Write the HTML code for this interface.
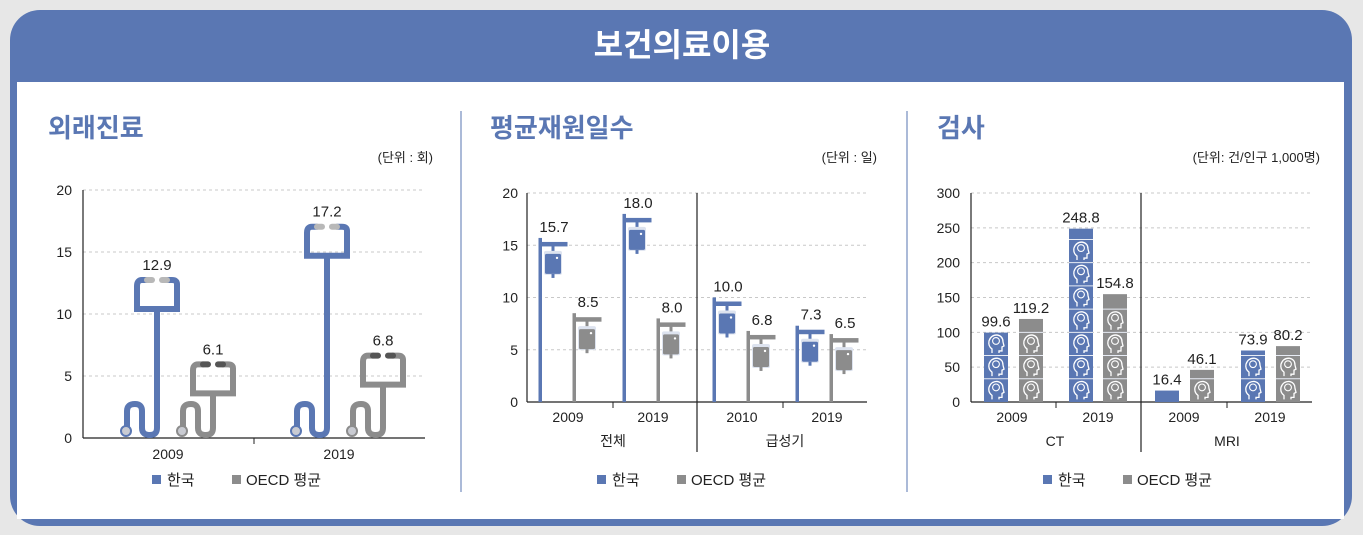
<!DOCTYPE html>
<html><head><meta charset="utf-8">
<style>
html,body{margin:0;padding:0;background:#e7e7e7;}
svg{display:block;font-family:"Liberation Sans","Noto Sans CJK KR",sans-serif;}
</style></head>
<body>
<svg id="s" width="1363" height="535" viewBox="0 0 1363 535">
<rect x="0" y="0" width="1363" height="535" fill="#e7e7e7"/>
<rect x="10" y="10" width="1342" height="516" rx="30" fill="#5a77b3"/>
<rect x="17" y="82" width="1327" height="437" fill="#fff"/>
<text x="682" y="56" text-anchor="middle" fill="#fff" font-size="32" font-weight="bold" font-family="'Noto Sans CJK KR',sans-serif">보건의료이용</text>
<line x1="461" y1="111" x2="461" y2="492" stroke="#8fa3cc" stroke-width="1.5"/>
<line x1="907" y1="111" x2="907" y2="492" stroke="#8fa3cc" stroke-width="1.5"/>
<g id="g"></g>
</svg>
<script>
// Panel 1: 외래진료
const p1Categories = ['2009', '2019'];
const p1Korea = [12.9, 17.2];
const p1Oecd = [6.1, 6.8];
const p1Ticks = [0, 5, 10, 15, 20];
// Panel 2: 평균재원일수
const p2Years = ['2009', '2019', '2010', '2019'];
const p2Groups = ['전체', '급성기'];
const p2Korea = [15.7, 18.0, 10.0, 7.3];
const p2Oecd = [8.5, 8.0, 6.8, 6.5];
const p2Ticks = [0, 5, 10, 15, 20];
// Panel 3: 검사
const p3Years = ['2009', '2019', '2009', '2019'];
const p3Groups = ['CT', 'MRI'];
const p3Korea = [99.6, 248.8, 16.4, 73.9];
const p3Oecd = [119.2, 154.8, 46.1, 80.2];
const p3Ticks = [0, 50, 100, 150, 200, 250, 300];

const BLUE = '#5a77b3', GRAY = '#8c8c8c', TXT = '#222';
const g = document.getElementById('g');
const NS = 'http://www.w3.org/2000/svg';
function mk(tag, attrs, parent) {
  const e = document.createElementNS(NS, tag);
  for (const k in attrs) e.setAttribute(k, attrs[k]);
  (parent || g).appendChild(e);
  return e;
}
function txt(x, y, s, size, anchor, fill, weight, name) {
  const e = mk('text', {x: x, y: y, 'font-size': size, 'text-anchor': anchor || 'start', fill: fill || TXT, 'font-weight': weight || 'normal'});
  e.textContent = s;
  
  
  return e;
}
function axis(x0, x1, y0, yTop, ticks, max, labelX, name) {
  const sy = v => y0 - (v / max) * (y0 - yTop);
  ticks.forEach(t => {
    if (t > 0) {
      const l = mk('line', {x1: x0, x2: x1, y1: sy(t), y2: sy(t), stroke: '#c8c8c8', 'stroke-dasharray': '3,3'});
      
      
    }
    txt(labelX, sy(t) + 5, String(t), 14, 'end', TXT, 'normal', name + '-tick-label');
  });
  const ya = mk('line', {x1: x0, x2: x0, y1: yTop, y2: y0, stroke: '#222', 'stroke-width': 1.2});
  
  
  const xa = mk('line', {x1: x0, x2: x1, y1: y0, y2: y0, stroke: '#222', 'stroke-width': 1.2});
  
  
  return sy;
}
function legend(x, y, name) {
  const a = mk('rect', {x: x, y: y - 9, width: 9, height: 9, fill: BLUE});
  
  
  txt(x + 15, y + 1, '한국', 15, 'start', TXT, 'normal', name + '-legend-korea');
  const b = mk('rect', {x: x + 80, y: y - 9, width: 9, height: 9, fill: GRAY});
  
  
  txt(x + 94, y + 1, 'OECD 평균', 15, 'start', TXT, 'normal', name + '-legend-oecd');
}

// ---------- Panel 1 ----------
txt(48, 137, '외래진료', 26, 'start', BLUE, 'bold', 'outpatient-title');
txt(433, 162, '(단위 : 회)', 13, 'end', TXT, 'normal', 'outpatient-unit');
const sy1 = axis(83, 425, 438, 190, p1Ticks, 20, 72, 'outpatient');
{ const t = mk('line', {x1: 254, x2: 254, y1: 438, y2: 444, stroke: '#222'});
    }
function stetho(S, v, color, ear, name) {
  const top = sy1(v);
  const grp = mk('g', {});
  
  
  const d = `M${S-20},${top+8} L${S-20},${top+31} L${S+20},${top+31} L${S+20},${top+6} Q${S+20},${top+2} ${S+15},${top+2} L${S+10},${top+2}` +
    ` M${S-10},${top+2} L${S-15},${top+2} Q${S-20},${top+2} ${S-20},${top+8}` +
    ` M${S},${top+31} L${S},${428} Q${S},${435} ${S-7},${435} Q${S-15},${435} ${S-15},${428} L${S-15},${411} Q${S-15},${404} ${S-22},${404} Q${S-30},${404} ${S-30},${411} L${S-30},${427}`;
  mk('path', {d: d, fill: 'none', stroke: color, 'stroke-width': 6, 'stroke-linecap': 'round'}, grp);
  mk('line', {x1: S-10, x2: S-5, y1: top+2, y2: top+2, stroke: ear, 'stroke-width': 6, 'stroke-linecap': 'round'}, grp);
  mk('line', {x1: S+5, x2: S+10, y1: top+2, y2: top+2, stroke: ear, 'stroke-width': 6, 'stroke-linecap': 'round'}, grp);
  mk('circle', {cx: S-31, cy: 431, r: 5, fill: '#c9cbd2', stroke: color, 'stroke-width': 2}, grp);
  txt(S, top - 8, v.toFixed(1), 15, 'middle', TXT, 'normal', name + '-value');
}
const p1KX = [157, 327], p1OX = [213, 383], p1CX = [168, 339];
p1Categories.forEach((c, i) => {
  stetho(p1KX[i], p1Korea[i], BLUE, '#b8b8b8', 'outpatient-korea-' + c);
  stetho(p1OX[i], p1Oecd[i], GRAY, '#555', 'outpatient-oecd-' + c);
  txt(p1CX[i], 459, c, 14, 'middle', TXT, 'normal', 'outpatient-category-label');
});
legend(152, 484, 'outpatient');

// ---------- Panel 2 ----------
txt(490, 137, '평균재원일수', 26, 'start', BLUE, 'bold', 'los-title');
txt(877, 162, '(단위 : 일)', 13, 'end', TXT, 'normal', 'los-unit');
const sy2 = axis(527, 867, 402, 193, p2Ticks, 20, 518, 'los');
[613, 783].forEach(x => { const t = mk('line', {x1: x, x2: x, y1: 402, y2: 408, stroke: '#222'});
    });
{ const s = mk('line', {x1: 697, x2: 697, y1: 193, y2: 452, stroke: '#222', 'stroke-width': 1.2});
    }
function ivPole(P, v, color, name) {
  const top = sy2(v);
  const grp = mk('g', {});
  
  
  mk('rect', {x: P - 1.5, y: top, width: 3.5, height: 402 - top, fill: color}, grp);
  mk('rect', {x: P - 1.5, y: top + 4, width: 29, height: 4.5, fill: color}, grp);
  const bx = P + 13;
  mk('rect', {x: bx - 1.5, y: top + 8, width: 3, height: 6, fill: color}, grp);
  mk('rect', {x: bx - 9, y: top + 13, width: 18, height: 24, rx: 2, fill: '#dde3ef'}, grp);
  mk('rect', {x: bx - 8, y: top + 16, width: 16, height: 20, rx: 1.5, fill: color}, grp);
  mk('rect', {x: bx - 1.5, y: top + 36, width: 3, height: 4, fill: color}, grp);
  mk('circle', {cx: bx + 4, cy: top + 20, r: 1.2, fill: '#fff'}, grp);
  txt(P + 14, top - 6, v.toFixed(1), 15, 'middle', TXT, 'normal', name + '-value');
}
const p2KX = [540, 624, 714, 797], p2OX = [574, 658, 748, 831], p2YX = [568, 653, 742, 827], p2GX = [613, 785];
p2Years.forEach((y, i) => {
  ivPole(p2KX[i], p2Korea[i], BLUE, 'los-korea-' + y + '-' + i);
  ivPole(p2OX[i], p2Oecd[i], GRAY, 'los-oecd-' + y + '-' + i);
  txt(p2YX[i], 422, y, 14, 'middle', TXT, 'normal', 'los-year-label');
});
p2Groups.forEach((gn, i) => txt(p2GX[i], 446, gn, 14, 'middle', TXT, 'normal', 'los-group-label'));
legend(597, 484, 'los');

// ---------- Panel 3 ----------
txt(937, 137, '검사', 26, 'start', BLUE, 'bold', 'exam-title');
txt(1320, 162, '(단위: 건/인구 1,000명)', 13, 'end', TXT, 'normal', 'exam-unit');
const sy3 = axis(971, 1312, 402, 193, p3Ticks, 300, 960, 'exam');
[1056, 1227].forEach(x => { const t = mk('line', {x1: x, x2: x, y1: 402, y2: 408, stroke: '#222'});
    });
{ const s = mk('line', {x1: 1141, x2: 1141, y1: 193, y2: 452, stroke: '#222', 'stroke-width': 1.2});
    }
const CELL = 100 / 3;
function headBar(x, v, color, name) {
  const w = 24, top = sy3(v);
  const grp = mk('g', {});
  
  
  mk('rect', {x: x, y: top, width: w, height: 402 - top, fill: color}, grp);
  const cells = Math.floor(v / CELL + 0.05);
  for (let k = 0; k < cells; k++) {
    const yb = sy3(k * CELL), yt = sy3((k + 1) * CELL);
    if (k > 0) mk('line', {x1: x, x2: x + w, y1: yb, y2: yb, stroke: '#e8ecf5', 'stroke-width': 1}, grp);
    const cx = x + w / 2, cy = (yb + yt) / 2;
    mk('path', {d: `M${cx-4},${cy+9} L${cx-4},${cy+5} Q${cx-8},${cy+2} ${cx-7},${cy-3} Q${cx-5},${cy-9} ${cx+1},${cy-9} Q${cx+7},${cy-8} ${cx+7},${cy-2} L${cx+8},${cy+2} L${cx+6},${cy+3} L${cx+6},${cy+7} L${cx+3},${cy+7} L${cx+3},${cy+9}`, fill: 'none', stroke: '#fff', 'stroke-width': 1.3}, grp);
    mk('circle', {cx: cx, cy: cy - 3, r: 3.4, fill: 'none', stroke: '#fff', 'stroke-width': 1.1}, grp);
  }
  if (cells * CELL < v - 3 && cells > 0) { const yl = sy3(cells * CELL);
    mk('line', {x1: x, x2: x + w, y1: yl, y2: yl, stroke: '#e8ecf5', 'stroke-width': 1}, grp); }
  txt(x + w / 2, top - 6, v.toFixed(1), 15, 'middle', TXT, 'normal', name + '-value');
}
const p3KX = [984, 1069, 1155, 1241], p3OX = [1019, 1103, 1190, 1276], p3YX = [1012, 1098, 1184, 1270], p3GX = [1055, 1227];
p3Years.forEach((y, i) => {
  headBar(p3KX[i], p3Korea[i], BLUE, 'exam-korea-' + y + '-' + i);
  headBar(p3OX[i], p3Oecd[i], GRAY, 'exam-oecd-' + y + '-' + i);
  txt(p3YX[i], 422, y, 14, 'middle', TXT, 'normal', 'exam-year-label');
});
p3Groups.forEach((gn, i) => txt(p3GX[i], 446, gn, 14, 'middle', TXT, 'normal', 'exam-group-label'));
legend(1043, 484, 'exam');
</script>
</body></html>
